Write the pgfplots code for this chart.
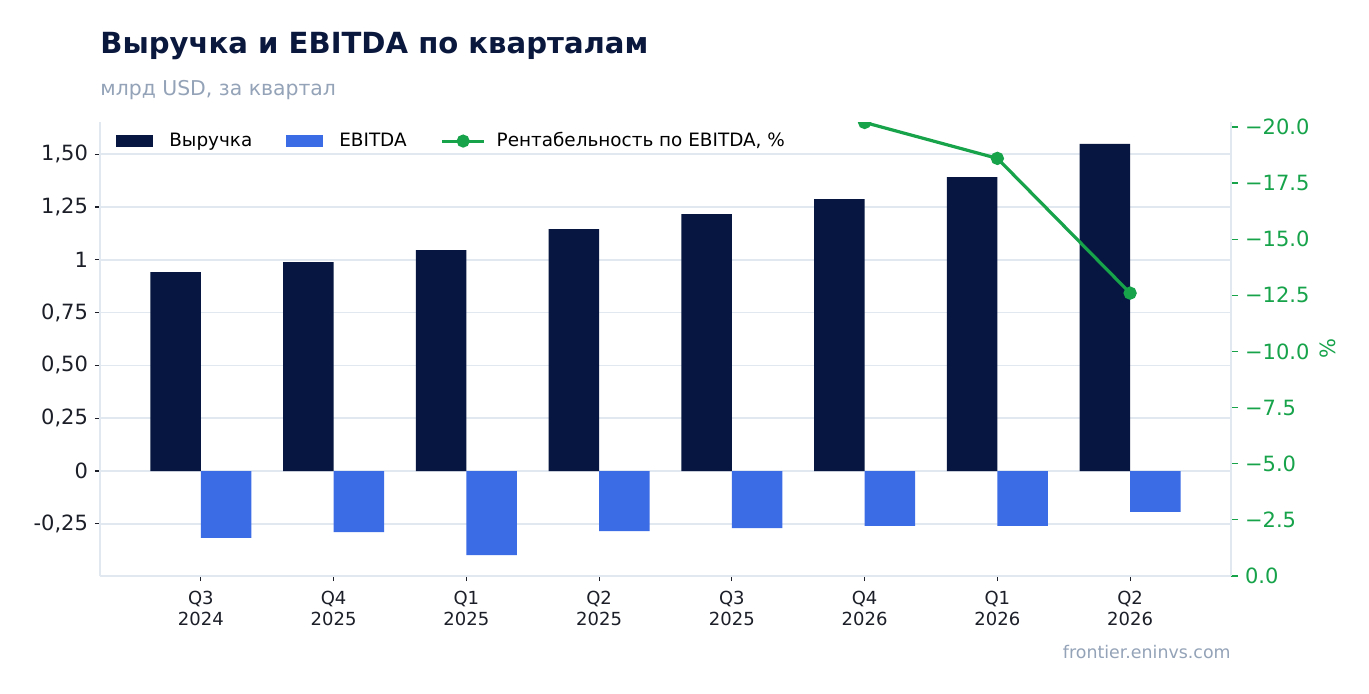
\documentclass[border=0pt]{standalone}
\usepackage{fontspec}
\setmainfont{DejaVu Sans}
\usepackage{pgfplots}
\pgfplotsset{compat=1.18}

\definecolor{navy}{RGB}{6,22,64}
\definecolor{ebitdablue}{RGB}{59,108,230}
\definecolor{margingreen}{RGB}{22,163,74}
\definecolor{gridc}{RGB}{226,232,240}
\definecolor{titlec}{RGB}{10,24,62}
\definecolor{tickc}{RGB}{28,30,40}
\definecolor{mutedc}{RGB}{148,163,184}

\begin{document}
\begin{tikzpicture}
\path[use as bounding box, fill=white] (0,0) rectangle (684.5pt,346.5pt);

% title block
\node[anchor=base west, inner sep=0pt, text=titlec, font=\fontsize{14.55}{16}\selectfont\bfseries]
  at (50pt,320pt) {Выручка и EBITDA по кварталам};
\node[anchor=base west, inner sep=0pt, text=mutedc, font=\fontsize{10.2}{11}\selectfont]
  at (50pt,299pt) {млрд USD, за квартал};
\node[anchor=base east, inner sep=0pt, text=mutedc, font=\fontsize{8.7}{10}\selectfont]
  at (615.5pt,17.5pt) {frontier.eninvs.com};

% bars, left axis
\begin{axis}[
    at={(50pt,58.5pt)}, anchor=south west,
    scale only axis, width=565.5pt, height=227pt,
    xmin=-0.76, xmax=7.76, ymin=-0.497, ymax=1.652,
    axis x line*=bottom, axis y line*=left,
    axis line style={draw=gridc, line width=1pt},
    tick align=outside, major tick length=2.5pt,
    tick style={draw=tickc, line width=0.6pt},
    xtick={0,1,2,3,4,5,6,7},
    xticklabels={{Q3\\2024},{Q4\\2025},{Q1\\2025},{Q2\\2025},{Q3\\2025},{Q4\\2026},{Q1\\2026},{Q2\\2026}},
    xticklabel style={align=center, text=tickc, font=\fontsize{9}{10.4}\selectfont, yshift=-1.5pt},
    ytick={-0.25,0,0.25,0.5,0.75,1,1.25,1.5},
    yticklabels={{-0,25},0,{0,25},{0,50},{0,75},1,{1,25},{1,50}},
    yticklabel style={text=tickc, font=\fontsize{10.5}{12}\selectfont},
    ymajorgrids, grid style={draw=gridc, line width=0.8pt},
    legend style={draw=none, fill=none, inner sep=0pt,
        at={(0.0141,0.958)}, anchor=west,
        font=\fontsize{9.2}{10}\selectfont,
        /tikz/every odd column/.append style={column sep=6pt},
        /tikz/every even column/.append style={column sep=15pt}},
    legend columns=3,
]
\addplot[ybar, bar width=0.38, bar shift=-0.19, fill=navy, draw=none,
    legend image code/.code={\fill[navy] (0pt,-3pt) rectangle (18.5pt,3pt);}]
    coordinates {(0,0.942) (1,0.989) (2,1.046) (3,1.145) (4,1.216) (5,1.287) (6,1.391) (7,1.548)};
\addlegendentry{Выручка}
\addplot[ybar, bar width=0.38, bar shift=0.19, fill=ebitdablue, draw=none,
    legend image code/.code={\fill[ebitdablue] (0pt,-3pt) rectangle (18.5pt,3pt);}]
    coordinates {(0,-0.317) (1,-0.289) (2,-0.398) (3,-0.284) (4,-0.270) (5,-0.260) (6,-0.260) (7,-0.194)};
\addlegendentry{EBITDA}
\addlegendimage{margingreen, line width=1.5pt, mark=*, mark size=2.5pt,
    legend image code/.code={\draw[margingreen, line width=1.5pt] (0pt,0pt) -- (21pt,0pt);
        \fill[margingreen] (10.5pt,0pt) circle (2.5pt);}}
\addlegendentry{\hspace{-2.5pt}Рентабельность по EBITDA, \%}
\end{axis}

% margin line, right axis
\begin{axis}[
    at={(50pt,58.5pt)}, anchor=south west,
    scale only axis, width=565.5pt, height=227pt,
    xmin=-0.76, xmax=7.76,
    y dir=reverse, ymin=-20.22, ymax=0,
    hide x axis,
    axis y line*=right,
    axis line style={draw=gridc, line width=1pt},
    tick align=outside, major tick length=3.5pt,
    tick style={draw=margingreen, line width=0.6pt},
    ytick={-20,-17.5,-15,-12.5,-10,-7.5,-5,-2.5,0},
    yticklabels={−20.0,−17.5,−15.0,−12.5,−10.0,−7.5,−5.0,−2.5,0.0},
    yticklabel style={text=margingreen, font=\fontsize{10.5}{12}\selectfont},
    ylabel={\%},
    ylabel style={text=margingreen, font=\fontsize{10.5}{12}\selectfont, yshift=1.5pt},
    clip marker paths=true,
]
\addplot[margingreen, line width=1.6pt, mark=*, mark size=2.5pt]
    coordinates {(0,-33.7) (1,-29.2) (2,-38.0) (3,-24.8) (4,-22.2) (5,-20.2) (6,-18.6) (7,-12.6)};
\end{axis}
\end{tikzpicture}
\end{document}
